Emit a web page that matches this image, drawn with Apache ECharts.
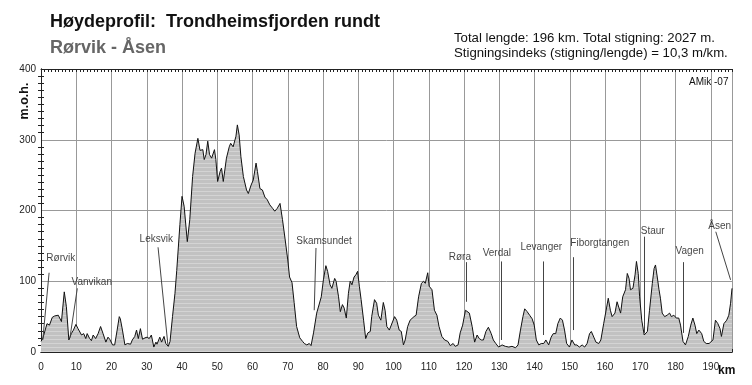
<!DOCTYPE html>
<html>
<head>
<meta charset="utf-8">
<script src="https://cdn.jsdelivr.net/npm/echarts@6/dist/echarts.min.js"></script>
<style>
html,body{margin:0;padding:0;background:#fff;}
#chart{width:752px;height:385px;}
</style>
</head>
<body>
<div id="chart"></div>
<script>
// ---- Data ----
const kms = [0,0.5,1.0,1.7,2.4,3.2,3.9,4.9,5.3,5.8,6.6,7.2,7.9,8.6,9.2,9.9,10.5,11.0,11.5,12.1,12.7,13.1,13.8,14.3,14.8,15.5,16.2,16.9,17.6,18.4,19.0,19.5,20.3,20.9,21.6,22.2,22.5,23.1,23.8,24.5,25.4,25.9,26.6,27.1,27.6,28.2,28.8,29.5,30.1,30.7,31.3,32.0,32.6,32.9,33.7,34.2,34.9,35.4,36.1,36.6,37.3,38.0,38.5,39.4,40.0,40.6,41.5,42.2,43.0,43.7,44.5,45.1,45.9,46.3,46.8,47.3,47.8,48.4,49.2,49.6,50.1,50.8,51.2,51.7,52.6,53.4,53.8,54.5,55.3,55.7,56.2,56.7,57.4,58.3,58.8,59.6,60.2,61.0,61.4,62.1,62.8,63.5,64.2,64.9,65.7,66.3,67.0,67.8,68.5,69.2,70.0,70.5,71.2,71.8,72.5,73.4,74.2,74.7,75.4,76.1,76.6,77.3,78.2,78.7,79.5,80.1,80.8,81.3,82.0,82.5,83.3,83.7,84.4,84.9,85.5,86.0,86.6,87.2,87.7,88.2,88.8,89.3,89.8,90.3,90.8,91.5,92.1,92.7,93.4,93.8,94.6,95.2,95.7,96.4,97.1,97.6,98.1,98.8,99.3,100.3,100.9,101.6,102.2,102.8,103.3,104.0,104.7,105.2,105.8,106.4,107.1,107.9,108.5,109.0,109.7,110.1,110.9,111.6,112.3,112.9,113.7,114.5,115.4,116.1,116.9,117.5,118.3,118.9,119.6,120.4,120.9,121.5,122.3,123.0,123.7,124.3,124.9,125.5,126.2,126.9,127.7,128.3,129.0,129.8,130.8,131.7,132.7,133.6,134.6,135.3,136.0,136.7,137.2,137.9,138.6,139.3,139.9,140.5,141.2,141.9,142.6,143.2,144.0,144.7,145.3,146.0,146.6,147.3,147.9,148.5,149.1,149.9,150.6,151.4,152.0,152.7,153.5,154.2,154.9,155.6,156.1,156.8,157.4,158.2,158.8,159.6,160.3,160.9,161.5,162.0,162.8,163.4,163.9,164.4,165.0,165.8,166.3,166.8,167.2,167.9,168.5,168.9,169.4,169.8,170.4,171.1,171.5,172.0,172.6,173.4,173.9,174.3,174.8,175.3,175.7,176.2,176.9,177.6,178.3,178.8,179.5,180.2,180.9,181.4,182.1,182.8,183.6,184.3,184.9,185.5,186.0,186.6,187.4,188.0,188.7,189.5,190.0,190.6,191.3,192.0,192.6,193.0,193.7,194.5,195.1,195.6,196.0];
const elevations = [15,19,17,40,38,49,51,52,51,43,85,64,17,26,31,39,33,31,24,26,19,26,19,16,24,19,26,36,26,14,21,18,10,10,31,50,47,31,10,12,11,17,22,31,19,33,18,20,21,19,24,7,14,11,21,14,22,12,8,15,50,83,115,180,220,206,156,187,248,281,302,285,286,272,279,298,279,274,286,272,241,255,260,241,274,290,295,290,305,321,307,276,248,229,224,236,243,267,255,231,229,219,215,208,203,199,203,210,187,161,130,106,98,70,36,20,15,12,10,12,9,27,55,53,78,102,122,114,95,90,104,100,78,57,67,62,48,83,100,95,106,109,114,93,74,45,19,27,29,50,74,69,52,45,70,59,36,31,29,50,45,31,29,10,17,36,45,43,50,52,78,97,100,97,112,93,88,59,52,36,22,17,15,9,12,8,10,27,38,59,61,55,36,14,24,19,17,17,29,35,26,17,12,7,10,8,7,8,6,10,31,50,61,57,52,47,38,17,10,12,12,17,10,21,26,26,40,48,45,31,12,7,17,10,10,7,10,7,12,26,29,21,14,12,17,40,59,76,59,50,55,71,69,55,78,88,111,104,88,90,109,128,111,78,45,24,22,29,59,97,118,123,106,88,76,55,50,52,55,50,52,48,48,38,15,10,22,38,48,38,26,31,26,15,12,12,10,17,45,40,33,22,40,45,52,69,90];

const xTickLabels = [0,10,20,30,40,50,60,70,80,90,100,110,120,130,140,150,160,170,180,190];
const yTickLabels = [0,100,200,300,400];

const placeNames   = ['Rørvik','Vanvikan','Leksvik','Skamsundet','Røra','Verdal','Levanger','Fiborgtangen','Staur','Vagen','Åsen'];
const placeKm      = [0.5, 8.2, 36.0, 77.5, 120.6, 130.6, 142.4, 151.0, 171.2, 182.2, 195.6];
const placeElev    = [17, 20, 10, 59, 71, 17, 24, 31, 27, 27, 102];
const leaderTopKm  = [2.3, 10.3, 33.2, 78.0, 120.6, 130.6, 142.4, 151.0, 171.2, 182.2, 191.4];
const leaderTopEl  = [112, 90, 148, 147, 127, 128, 128, 134, 163, 127, 170];
const nameKm       = [5.6, 14.4, 32.7, 80.3, 118.8, 129.3, 141.9, 158.5, 173.5, 184.0, 192.5];
const nameEl       = [133, 98, 160, 156, 134, 140, 148, 154, 171, 143, 178];

// ---- Chart ----
const profile = kms.map((k, i) => [k, elevations[i]]);
const leaders = placeNames.map((n, i) => ({coords: [[leaderTopKm[i], leaderTopEl[i]], [placeKm[i], placeElev[i]]]}));
const nameData = placeNames.map((n, i) => ({value: [nameKm[i], nameEl[i]], name: n}));

const pat = document.createElement('canvas');
pat.width = 4; pat.height = 4;
const pc = pat.getContext('2d');
pc.fillStyle = '#c2c2c2'; pc.fillRect(0, 0, 4, 4);
pc.fillStyle = '#d4d4d4'; pc.fillRect(0, 3, 4, 1);

const FONT = 'Liberation Sans, Arial, sans-serif';
const chart = echarts.init(document.getElementById('chart'), null, {renderer: 'canvas'});
const xMin = 0, xMax = 196, yMin = 0, yMax = 400;
const tickCommon = {show: true, inside: true, length: 3, lineStyle: {color: '#222', width: 1}};

chart.setOption({
  animation: false,
  backgroundColor: '#fff',
  grid: {left: 41, right: 20, top: 69, bottom: 33, containLabel: false},
  xAxis: [
    {type: 'value', min: xMin, max: xMax, interval: 10, position: 'bottom',
     axisLine: {show: true, lineStyle: {color: '#222', width: 1}},
     axisTick: {show: false},
     splitLine: {show: true, lineStyle: {color: '#999', width: 1}},
     axisLabel: {show: true, fontSize: 10, color: '#222', fontFamily: FONT, margin: 10, showMaxLabel: false,
       formatter: v => xTickLabels.indexOf(v) >= 0 ? String(v) : ''}},
    {type: 'value', min: xMin, max: xMax, interval: 1, position: 'bottom',
     axisLine: {show: true, lineStyle: {color: '#222', width: 1}},
     axisTick: tickCommon, splitLine: {show: false}, axisLabel: {show: false}},
    {type: 'value', min: xMin, max: xMax, interval: 1, position: 'top',
     axisLine: {show: true, lineStyle: {color: '#222', width: 1}},
     axisTick: tickCommon, splitLine: {show: false}, axisLabel: {show: false}}
  ],
  yAxis: [
    {type: 'value', min: yMin, max: yMax, interval: 100, position: 'left',
     axisLine: {show: true, lineStyle: {color: '#222', width: 1}},
     axisTick: {show: false},
     minorTick: {show: true, splitNumber: 10, length: 3, lineStyle: {color: '#222', width: 1}},
     splitLine: {show: true, lineStyle: {color: '#999', width: 1}},
     axisLabel: {show: true, fontSize: 10, color: '#222', fontFamily: FONT, margin: 5,
       formatter: v => yTickLabels.indexOf(v) >= 0 ? String(v) : ''}},
    {type: 'value', min: yMin, max: yMax, interval: 100, position: 'right',
     axisLine: {show: true, lineStyle: {color: '#222', width: 1}},
     axisTick: {show: false},
     minorTick: {show: true, splitNumber: 10, length: 3, lineStyle: {color: '#222', width: 1}},
     splitLine: {show: false}, axisLabel: {show: false}}
  ],
  series: [
    {type: 'line', xAxisIndex: 0, yAxisIndex: 0, data: profile, showSymbol: false, symbol: 'none',
     lineStyle: {color: '#111', width: 1}, areaStyle: {color: {image: pat, repeat: 'repeat'}, opacity: 1}, z: 3},
    {type: 'lines', coordinateSystem: 'cartesian2d', xAxisIndex: 0, yAxisIndex: 0, data: leaders,
     lineStyle: {color: '#444', width: 1, opacity: 1}, symbol: 'none', z: 4},
    {type: 'scatter', xAxisIndex: 0, yAxisIndex: 0, data: nameData, symbolSize: 0, z: 5,
     label: {show: true, position: 'inside', formatter: p => p.name, fontSize: 10, color: '#111', fontFamily: FONT}}
  ],
  graphic: [
    {type: 'text', left: 50, top: 13, style: {text: 'Høydeprofil:  Trondheimsfjorden rundt', font: 'bold 18px ' + FONT, fill: '#111'}},
    {type: 'text', left: 50, top: 39, style: {text: 'Rørvik - Åsen', font: 'bold 18px ' + FONT, fill: '#666'}},
    {type: 'text', left: 454, top: 32, style: {text: 'Total lengde: 196 km. Total stigning: 2027 m.', font: '13.2px ' + FONT, fill: '#111'}},
    {type: 'text', left: 454, top: 47, style: {text: 'Stigningsindeks (stigning/lengde) = 10,3 m/km.', font: '13.2px ' + FONT, fill: '#111'}},
    {type: 'text', left: 689, top: 77, style: {text: 'AMik -07', font: '10px ' + FONT, fill: '#111'}},
    {type: 'text', x: 25, y: 101, rotation: Math.PI / 2, style: {text: 'm.o.h.', font: 'bold 12.5px ' + FONT, fill: '#111', align: 'center', verticalAlign: 'middle'}},
    {type: 'text', left: 718, top: 365, style: {text: 'km', font: 'bold 12px ' + FONT, fill: '#111'}}
  ]
});
</script>
</body>
</html>
